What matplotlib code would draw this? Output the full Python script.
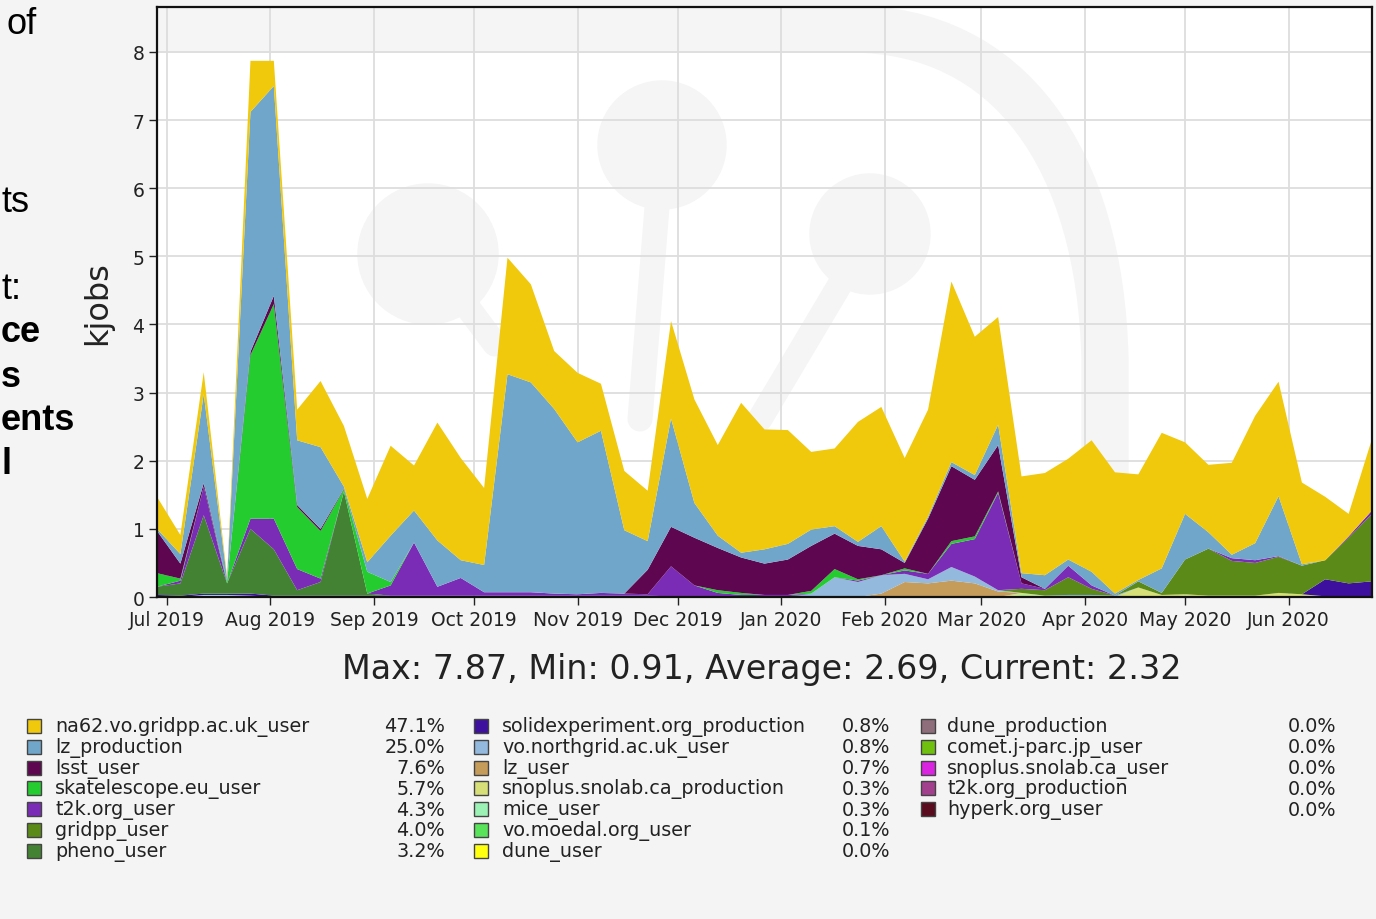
import numpy as np
import pandas as pd
import matplotlib
matplotlib.use('Agg')
import matplotlib.pyplot as plt
import matplotlib.dates as mdates
from matplotlib.patches import Rectangle, Circle, PathPatch
from matplotlib.path import Path

# weekly bins, Jun 2019 - Jun 2020 (kjobs)
weeks = pd.date_range('2019-06-28', periods=53, freq='7D')

na62 = [0.47, 0.28, 0.32, 0.03, 0.75, 0.37, 0.45, 0.97, 0.89, 0.93, 1.32, 0.66, 1.73, 1.50,
        1.13, 1.71, 1.44, 0.85, 1.02, 0.69, 0.87, 0.74, 1.43, 1.52, 1.33, 2.20, 1.76, 1.67,
        1.14, 1.14, 1.76, 1.75, 1.52, 1.57, 2.65, 2.03, 1.58, 1.42, 1.50, 1.48, 1.93, 1.78,
        1.55, 1.99, 1.05, 0.99, 1.35, 1.87, 1.68, 1.20, 0.93, 0.33, 1.05]
lz_prod = [0.03, 0.14, 1.31, 0.04, 3.52, 3.08, 0.95, 1.20, 0.03, 0.14, 0.68, 0.47, 0.68, 0.26,
           0.40, 3.20, 3.08, 2.71, 2.23, 2.38, 0.93, 0.42, 1.59, 0.51, 0.18, 0.07, 0.21, 0.23,
           0.24, 0.11, 0.06, 0.34, 0.02, 0.03, 0.06, 0.07, 0.30, 0.06, 0.20, 0.09, 0.20, 0.03,
           0.02, 0.36, 0.67, 0.24, 0.05, 0.25, 0.88, 0.02, 0.00, 0.00, 0.00]
lsst = [0.62, 0.22, 0.05, 0.00, 0.05, 0.12, 0.03, 0.03, 0.01, 0.00, 0.00, 0.00, 0.00, 0.00,
        0.00, 0.00, 0.00, 0.00, 0.00, 0.00, 0.00, 0.36, 0.58, 0.70, 0.62, 0.52, 0.46, 0.52,
        0.66, 0.52, 0.49, 0.38, 0.08, 0.81, 1.10, 0.83, 0.68, 0.09, 0.00, 0.00, 0.00, 0.00,
        0.00, 0.00, 0.00, 0.00, 0.00, 0.00, 0.00, 0.00, 0.00, 0.00, 0.00]
ska = [0.20, 0.03, 0.00, 0.03, 2.40, 3.15, 0.91, 0.70, 0.03, 0.32, 0.05, 0.00, 0.00, 0.00,
       0.00, 0.00, 0.00, 0.00, 0.00, 0.00, 0.00, 0.00, 0.00, 0.00, 0.04, 0.03, 0.00, 0.00,
       0.04, 0.12, 0.02, 0.00, 0.03, 0.00, 0.04, 0.04, 0.02, 0.00, 0.00, 0.00, 0.00, 0.00,
       0.00, 0.00, 0.00, 0.00, 0.00, 0.00, 0.00, 0.00, 0.00, 0.00, 0.00]
t2k = [0.00, 0.04, 0.42, 0.00, 0.15, 0.45, 0.31, 0.05, 0.00, 0.00, 0.15, 0.78, 0.13, 0.26,
       0.05, 0.05, 0.05, 0.03, 0.02, 0.04, 0.03, 0.02, 0.44, 0.16, 0.05, 0.02, 0.02, 0.02,
       0.00, 0.00, 0.02, 0.00, 0.05, 0.08, 0.34, 0.55, 1.43, 0.08, 0.02, 0.17, 0.05, 0.00,
       0.00, 0.00, 0.00, 0.00, 0.04, 0.04, 0.01, 0.00, 0.00, 0.02, 0.05]
gridpp = [0.00, 0.00, 0.00, 0.00, 0.00, 0.00, 0.00, 0.00, 0.00, 0.00, 0.00, 0.00, 0.00, 0.00,
          0.00, 0.00, 0.00, 0.00, 0.00, 0.00, 0.00, 0.00, 0.00, 0.00, 0.00, 0.00, 0.00, 0.00,
          0.00, 0.00, 0.00, 0.00, 0.00, 0.00, 0.00, 0.00, 0.00, 0.06, 0.08, 0.26, 0.09, 0.00,
          0.09, 0.03, 0.51, 0.69, 0.51, 0.48, 0.53, 0.42, 0.28, 0.67, 0.99]
pheno = [0.12, 0.18, 1.15, 0.15, 0.95, 0.68, 0.08, 0.20, 1.53, 0.03, 0.00, 0.00, 0.00, 0.00,
         0.00, 0.00, 0.00, 0.00, 0.00, 0.00, 0.00, 0.00, 0.00, 0.00, 0.00, 0.00, 0.00, 0.00,
         0.00, 0.00, 0.00, 0.00, 0.00, 0.00, 0.00, 0.00, 0.00, 0.00, 0.00, 0.00, 0.00, 0.00,
         0.00, 0.00, 0.00, 0.00, 0.00, 0.00, 0.00, 0.00, 0.00, 0.00, 0.00]
solid = [0.03, 0.02, 0.02, 0.02, 0.03, 0.02, 0.02, 0.02, 0.02, 0.02, 0.02, 0.02, 0.02, 0.02,
         0.02, 0.02, 0.02, 0.02, 0.02, 0.02, 0.02, 0.02, 0.01, 0.01, 0.01, 0.01, 0.01, 0.01,
         0.00, 0.00, 0.00, 0.00, 0.00, 0.00, 0.00, 0.00, 0.00, 0.00, 0.00, 0.00, 0.00, 0.00,
         0.00, 0.00, 0.00, 0.00, 0.00, 0.00, 0.00, 0.00, 0.25, 0.20, 0.23]
northgrid = [0.00, 0.00, 0.00, 0.00, 0.00, 0.00, 0.00, 0.00, 0.00, 0.00, 0.00, 0.00, 0.00, 0.00,
             0.00, 0.00, 0.00, 0.00, 0.00, 0.00, 0.00, 0.00, 0.00, 0.00, 0.00, 0.00, 0.00, 0.00,
             0.05, 0.29, 0.22, 0.27, 0.12, 0.06, 0.20, 0.10, 0.02, 0.00, 0.00, 0.03, 0.03, 0.02,
             0.00, 0.00, 0.00, 0.00, 0.00, 0.00, 0.00, 0.00, 0.00, 0.00, 0.00]
lz_user = [0.00, 0.00, 0.00, 0.00, 0.00, 0.00, 0.00, 0.00, 0.00, 0.00, 0.00, 0.00, 0.00, 0.00,
           0.00, 0.00, 0.00, 0.00, 0.00, 0.00, 0.00, 0.00, 0.00, 0.00, 0.00, 0.00, 0.00, 0.00,
           0.00, 0.00, 0.00, 0.05, 0.22, 0.20, 0.24, 0.20, 0.08, 0.00, 0.00, 0.00, 0.00, 0.00,
           0.00, 0.00, 0.00, 0.00, 0.00, 0.00, 0.00, 0.00, 0.00, 0.00, 0.00]
snoplus_prod = [0.00, 0.00, 0.00, 0.00, 0.00, 0.00, 0.00, 0.00, 0.00, 0.00, 0.00, 0.00, 0.00, 0.00,
                0.00, 0.00, 0.00, 0.00, 0.00, 0.00, 0.00, 0.00, 0.00, 0.00, 0.00, 0.00, 0.00, 0.00,
                0.00, 0.00, 0.00, 0.00, 0.00, 0.00, 0.00, 0.00, 0.00, 0.03, 0.00, 0.00, 0.00, 0.00,
                0.14, 0.03, 0.02, 0.02, 0.02, 0.02, 0.06, 0.04, 0.01, 0.00, 0.00]
mice = [0.00, 0.00, 0.03, 0.03, 0.02, 0.00, 0.00, 0.00, 0.00, 0.00, 0.00, 0.00, 0.00, 0.00,
        0.00, 0.00, 0.00, 0.00, 0.00, 0.00, 0.00, 0.00, 0.00, 0.00, 0.00, 0.00, 0.00, 0.00,
        0.00, 0.00, 0.00, 0.00, 0.00, 0.00, 0.00, 0.00, 0.00, 0.03, 0.02, 0.00, 0.00, 0.00,
        0.00, 0.00, 0.02, 0.00, 0.00, 0.00, 0.00, 0.00, 0.00, 0.00, 0.00]

# legend: name, colour, share
leg_names = ['na62.vo.gridpp.ac.uk_user', 'lz_production', 'lsst_user', 'skatelescope.eu_user',
             't2k.org_user', 'gridpp_user', 'pheno_user',
             'solidexperiment.org_production', 'vo.northgrid.ac.uk_user', 'lz_user',
             'snoplus.snolab.ca_production', 'mice_user', 'vo.moedal.org_user', 'dune_user',
             'dune_production', 'comet.j-parc.jp_user', 'snoplus.snolab.ca_user',
             't2k.org_production', 'hyperk.org_user']
leg_pct = ['47.1%', '25.0%', '7.6%', '5.7%', '4.3%', '4.0%', '3.2%',
           '0.8%', '0.8%', '0.7%', '0.3%', '0.3%', '0.1%', '0.0%',
           '0.0%', '0.0%', '0.0%', '0.0%', '0.0%']
leg_colors = ['#f0c80c', '#70a6ca', '#5f0650', '#24cc30', '#7b2cb6', '#5b8a18', '#438232',
              '#3d109e', '#93b9dd', '#c69c5a', '#d6df78', '#9cf2b4', '#58e35a', '#ffff10',
              '#8e6e7a', '#70c010', '#d924e0', '#a3408e', '#580c1e']

# stacked bottom -> top (reverse of legend order)
stack = [mice, snoplus_prod, lz_user, northgrid, solid, pheno, gridpp, t2k, ska, lsst, lz_prod, na62]
stack_colors = ['#9cf2b4', '#d6df78', '#c69c5a', '#93b9dd', '#3d109e', '#438232', '#5b8a18',
                '#7b2cb6', '#24cc30', '#5f0650', '#70a6ca', '#f0c80c']

W, H = 1376, 920
fig = plt.figure(figsize=(W / 100, H / 100), dpi=100, facecolor='#f4f4f4')
ax = fig.add_axes([157 / W, 1 - 598 / H, (1372 - 157) / W, 590 / H])
ax.set_facecolor('white')

# overlay in pixel coordinates for texts, legend and the faint watermark
ov = fig.add_axes([0, 0, 1, 1])
ov.set_xlim(0, W)
ov.set_ylim(H, 0)
ov.axis('off')

ax.stackplot(weeks, *stack, colors=stack_colors, linewidth=0, zorder=2)

ax.set_xlim(weeks[0], weeks[-1])
ax.set_ylim(0, 8.66)
ax.set_yticks(range(0, 9))
ax.xaxis.set_major_locator(mdates.MonthLocator())
ax.xaxis.set_major_formatter(mdates.DateFormatter('%b %Y'))
ax.grid(True, color='#dddddd', lw=1.3)
ax.set_axisbelow(True)
for s in ax.spines.values():
    s.set_linewidth(1.6)
    s.set_color('#111111')
ax.tick_params(direction='out', length=6, width=1, labelsize=13.5, colors='#222222', pad=3)
ax.set_ylabel('kjobs', fontsize=23, color='#222222')
ax.yaxis.set_label_coords(-0.036, 0.5)

# faint watermark logo behind the data
wm = '#f5f5f5'
band = Path([(157, 30), (850, 30), (1010, 30), (1100, 160), (1105, 360), (1105, 620)],
            [Path.MOVETO, Path.LINETO, Path.CURVE4, Path.CURVE4, Path.CURVE4, Path.LINETO])
ax.add_artist(PathPatch(band, transform=ov.transData, fill=False, edgecolor=wm,
                        lw=34, zorder=0.05, capstyle='butt'))
for (cx, cy, r), (sx, sy) in zip([(428, 255, 70), (662, 146, 64), (870, 235, 60)],
                                 [(495, 345), (640, 420), (760, 420)]):
    ax.add_artist(Circle((cx, cy), r, transform=ov.transData, color=wm, zorder=0.05))
    ax.add_artist(plt.Line2D([cx, sx], [cy, sy], transform=ov.transData, color=wm,
                             lw=18, solid_capstyle='round', zorder=0.05))

ov.text(762, 670, 'Max: 7.87, Min: 0.91, Average: 2.69, Current: 2.32',
        fontsize=24, ha='center', va='center', color='#222222')

# clipped slide text on the left
frag = [('of', 7, 25, 'normal'), ('ts', 1, 203, 'normal'), ('t:', 1, 290, 'normal'),
        ('ce', 1, 333, 'bold'), ('s', 1, 378, 'bold'), ('ents', 1, 421, 'bold'),
        ('l', 1, 465, 'bold')]
for txt, xl, yc, wt in frag:
    ov.text(xl, yc, txt, fontsize=26, fontweight=wt, ha='left', va='center',
            family='Liberation Sans', color='black')

col_x = [(27, 55, 445), (474, 502, 890), (921, 947, 1336)]
per_col = [7, 7, 5]
i = 0
for c, n in enumerate(per_col):
    sx, tx, px = col_x[c]
    for r in range(n):
        yc = 727 + 20.8 * r
        ov.add_patch(Rectangle((sx, yc - 7), 14, 14, facecolor=leg_colors[i],
                               edgecolor='#444444', lw=1))
        ov.text(tx, yc, leg_names[i], fontsize=13.8, ha='left', va='center', color='#222222')
        ov.text(px, yc, leg_pct[i], fontsize=13.8, ha='right', va='center', color='#222222')
        i += 1

fig.savefig('out.png', dpi=100, facecolor=fig.get_facecolor())
